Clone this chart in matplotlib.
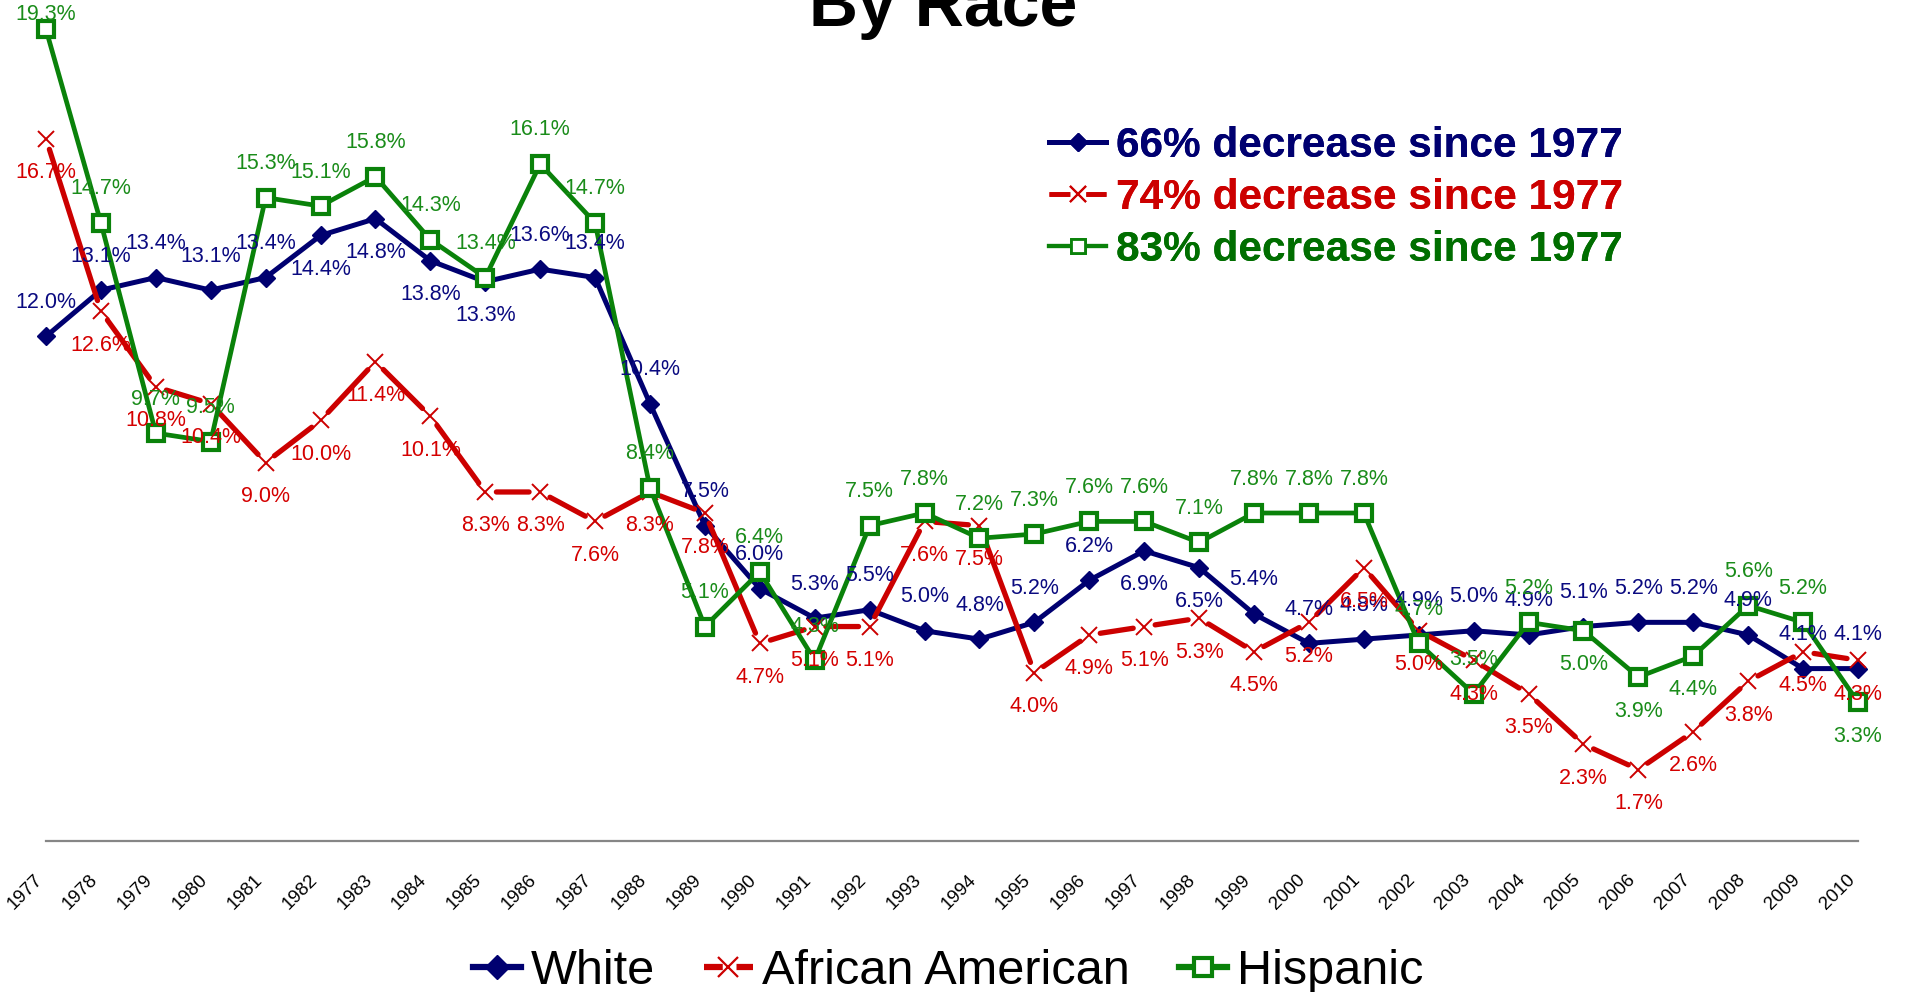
import matplotlib
matplotlib.use("Agg")
import matplotlib.pyplot as plt
from matplotlib.lines import Line2D

plt.rcParams['font.family'] = ['Liberation Sans', 'DejaVu Sans']

# ---------------- data ----------------
years = [1977, 1978, 1979, 1980, 1981, 1982, 1983, 1984, 1985, 1986, 1987, 1988,
         1989, 1990, 1991, 1992, 1993, 1994, 1995, 1996, 1997, 1998, 1999, 2000,
         2001, 2002, 2003, 2004, 2005, 2006, 2007, 2008, 2009, 2010]
year_labels = [str(y) for y in years]

white = [12.0, 13.1, 13.4, 13.1, 13.4, 14.4, 14.8, 13.8, 13.3, 13.6, 13.4, 10.4,
         7.5, 6.0, 5.3, 5.5, 5.0, 4.8, 5.2, 6.2, 6.9, 6.5, 5.4, 4.7,
         4.8, 4.9, 5.0, 4.9, 5.1, 5.2, 5.2, 4.9, 4.1, 4.1]
african_american = [16.7, 12.6, 10.8, 10.4, 9.0, 10.0, 11.4, 10.1, 8.3, 8.3, 7.6, 8.3,
                     7.8, 4.7, 5.1, 5.1, 7.6, 7.5, 4.0, 4.9, 5.1, 5.3, 4.5, 5.2,
                     6.5, 5.0, 4.3, 3.5, 2.3, 1.7, 2.6, 3.8, 4.5, 4.3]
hispanic = [19.3, 14.7, 9.7, 9.5, 15.3, 15.1, 15.8, 14.3, 13.4, 16.1, 14.7, 8.4,
            5.1, 6.4, 4.3, 7.5, 7.8, 7.2, 7.3, 7.6, 7.6, 7.1, 7.8, 7.8,
            7.8, 4.7, 3.5, 5.2, 5.0, 3.9, 4.4, 5.6, 5.2, 3.3]

series_names = ['White', 'African American', 'Hispanic']
decrease_notes = ['66% decrease since 1977', '74% decrease since 1977', '83% decrease since 1977']
title_text = 'By Race'

# ---------------- style ----------------
# data-label side: +1 above the point, -1 below
white_side = [1, 1, 1, 1, 1, -1, -1, -1, -1, 1, 1, 1,
              1, 1, 1, 1, 1, 1, 1, 1, -1, -1, 1, 1,
              1, 1, 1, 1, 1, 1, 1, 1, 1, 1]
aa_side = [-1] * len(years)
hisp_side = [1, 1, 1, 1, 1, 1, 1, 1, 1, 1, 1, 1,
             1, 1, 1, 1, 1, 1, 1, 1, 1, 1, 1, 1,
             1, 1, 1, 1, -1, -1, -1, 1, 1, -1]

NAVY = '#000070'
NAVY_LBL = '#0a0a80'
RED = '#cc0000'
RED_LBL = '#d40000'
GREEN = '#0a820a'
GREEN_LBL = '#1a8c1a'
GREEN_DARK = '#006e00'

W, H = 1908, 992
fig = plt.figure(figsize=(W / 100, H / 100), dpi=100)
ax = fig.add_axes([46 / W, (H - 841) / H, (1858 - 46) / W, 841 / H])
ax.set_xlim(1977, 2010)
ax.set_ylim(0, 20)

# White
ax.plot(years, white, color=NAVY, lw=3.6, marker='D', ms=9.5, mfc=NAVY, mec=NAVY,
        solid_joinstyle='round', zorder=3, clip_on=False)

# African American: segments with gaps around the markers
for i in range(len(years) - 1):
    ax.annotate('', xy=(years[i + 1], african_american[i + 1]),
                xytext=(years[i], african_american[i]),
                arrowprops=dict(arrowstyle='-', color=RED, lw=3.8,
                                shrinkA=8, shrinkB=8),
                annotation_clip=False, zorder=3.5)
ax.plot(years, african_american, ls='none', marker='x', ms=12, mew=1.4,
        color=RED, zorder=3.6, clip_on=False)

# Hispanic
ax.plot(years, hispanic, color=GREEN, lw=3.4, marker='s', ms=11, mfc='white',
        mec=GREEN, mew=3, solid_joinstyle='round', zorder=5, clip_on=False)

# data labels
off = 34 / 42.05
ytop = 20 - 15 / 42.05
for vals, sides, col in [(white, white_side, NAVY_LBL),
                         (african_american, aa_side, RED_LBL),
                         (hispanic, hisp_side, GREEN_LBL)]:
    for x, v, s in zip(years, vals, sides):
        y = min(v + s * off, ytop)
        ax.text(x, y, f'{v:.1f}%', ha='center', va='center', fontsize=15.5,
                color=col, zorder=7, clip_on=False)

# axes cosmetics
for sp in ['left', 'right', 'top']:
    ax.spines[sp].set_visible(False)
ax.spines['bottom'].set_color('#868686')
ax.spines['bottom'].set_linewidth(1.6)
ax.set_yticks([])
ax.set_xticks(years)
ax.set_xticklabels(year_labels, rotation=45, ha='right', va='top', fontsize=13.5)
ax.tick_params(axis='x', length=0, pad=22)

# title (partly cut off at the top, as in the reference)
fig.text(943 / W, 1 - 26 / H, title_text, ha='center', va='baseline',
         fontsize=49, fontweight='bold', color='black')

# top-right legend
top_handles = [
    Line2D([], [], color=NAVY, lw=3.6, marker='D', ms=9, mfc=NAVY, mec=NAVY),
    Line2D([], [], color=RED, lw=3.4, marker='x', ms=11, mew=1.5, dashes=(4.4, 3.4)),
    Line2D([], [], color=GREEN, lw=3.0, marker='s', ms=10, mfc='white', mec=GREEN, mew=2.0),
]
leg1 = ax.legend(top_handles, decrease_notes, loc='center left',
                 bbox_to_anchor=(1049 / W, 1 - 198 / H), bbox_transform=fig.transFigure,
                 frameon=False, prop={'weight': 'bold', 'size': 30.5},
                 handlelength=1.35, handletextpad=0.22, labelspacing=0.29,
                 borderpad=0, borderaxespad=0,
                 labelcolor=[NAVY, RED, GREEN_DARK])
ax.add_artist(leg1)

# bottom legend
bottom_handles = [
    Line2D([], [], color=NAVY, lw=4.5, marker='D', ms=12, mfc=NAVY, mec=NAVY),
    Line2D([], [], color=RED, lw=4.5, marker='x', ms=14, mew=1.6, dashes=(3.0, 2.2)),
    Line2D([], [], color=GREEN, lw=4.5, marker='s', ms=13, mfc='white', mec=GREEN, mew=3),
]
fig.legend(bottom_handles, series_names, loc='center',
           bbox_to_anchor=(948 / W, 1 - 972 / H), ncol=3, frameon=False,
           fontsize=35, handlelength=1.0, handletextpad=0.2, columnspacing=1.0,
           borderpad=0, borderaxespad=0)

fig.savefig('out.png', dpi=100)
